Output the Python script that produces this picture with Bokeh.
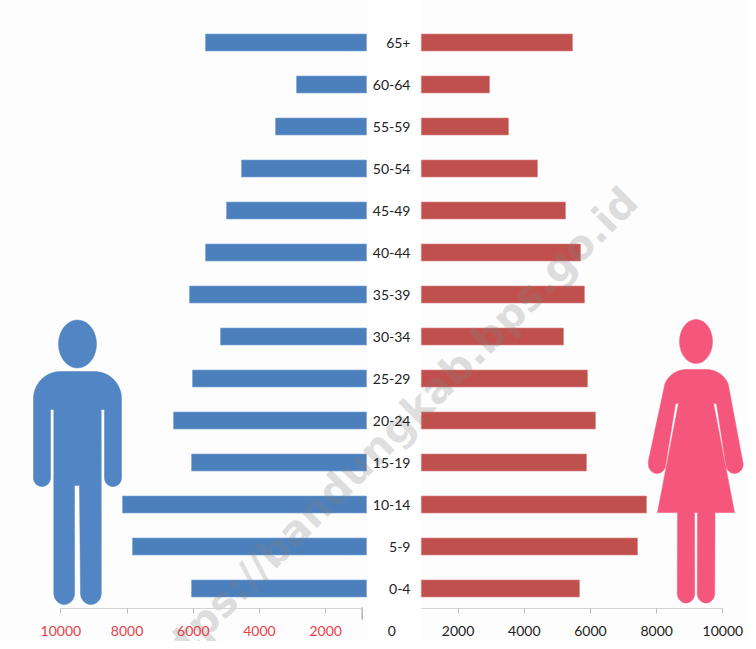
import numpy as np
from bokeh.embed import file_html
from bokeh.resources import INLINE
from bokeh.plotting import figure
from bokeh.models import LinearAxis, FixedTicker, Range1d, ColumnDataSource
from bokeh.core.properties import value

# ---- data ----
age_groups = ["0-4", "5-9", "10-14", "15-19", "20-24", "25-29", "30-34",
              "35-39", "40-44", "45-49", "50-54", "55-59", "60-64", "65+"]
male = [6054, 7837, 8139, 6054, 6598, 6024, 5178, 6115, 5631, 4997, 4544, 3517, 2882, 5631]
female = [5668, 7420, 7692, 5879, 6151, 5909, 5184, 5819, 5698, 5245, 4399, 3523, 2949, 5456]
male_base = 767      # bars are cut by the central label strip
female_base = 888
left_ticks = [2000, 4000, 6000, 8000, 10000]
right_ticks = [2000, 4000, 6000, 8000, 10000]

# ---- layout ----
W, H = 748, 641
OX, OY = 0, 0
PX_PER_UNIT = 0.0331
ZERO_PX = 391.4
ROW_PX = 42.0
BOTTOM_ROW_PX = 588.0
FONT = "Lato"

def dx(px):
    return (np.asarray(px, dtype=float) - ZERO_PX) / PX_PER_UNIT

def dy(py):
    return (BOTTOM_ROW_PX - np.asarray(py, dtype=float)) / ROW_PX

p = figure(width=W, height=H, output_backend="svg", toolbar_location=None,
           x_axis_type=None, y_axis_type=None,
           x_range=Range1d(float(dx(OX)), float(dx(OX + W))),
           y_range=Range1d(float(dy(OY + H)), float(dy(OY))),
           min_border=0, background_fill_color="#fdfdfd", outline_line_color=None)
p.grid.visible = False

# central white strip
p.quad(left=[float(dx(367))], right=[float(dx(421))], bottom=[float(dy(OY + H))], top=[float(dy(OY))],
       fill_color="#ffffff", line_color=None)

# bars
rows = list(range(len(age_groups)))
src = ColumnDataSource(dict(y=rows,
                            ml=[-v for v in male], mr=[-male_base] * len(rows),
                            fl=[female_base] * len(rows), fr=female))
p.hbar(y="y", left="ml", right="mr", height=17 / ROW_PX, source=src,
       fill_color="#4c80bd", line_color="#7ea4d2", line_width=0.6)
p.hbar(y="y", left="fl", right="fr", height=17 / ROW_PX, source=src,
       fill_color="#c0504d", line_color="#d68886", line_width=0.6)

# pictograms (traced in reference pixels, not data)
def arc(cx, cy, rx, ry, a0, a1, n=14):
    t = np.radians(np.linspace(a0, a1, n))
    return list(zip(cx + rx * np.cos(t), cy - ry * np.sin(t)))

def shape(points, color):
    xs, ys = zip(*points)
    p.patch(list(dx(xs)), list(dy(ys)), fill_color=color, line_color=color, line_width=0.5)

MAN = "#5285c4"
WOMAN = "#f4577b"
man = (arc(60, 398, 27, 27, 180, 90) + arc(94, 398, 27, 27, 90, 0)
       + arc(112.5, 477.5, 8.5, 8.5, 0, -180)
       + [(104, 409), (100.7, 409)]
       + arc(90.4, 593, 10.4, 11, 0, -180)
       + [(79, 485), (74, 485)]
       + arc(63.7, 593, 10.4, 11, 0, -180)
       + [(53.3, 409), (50, 409)]
       + arc(41.5, 477.5, 8.5, 8.5, 0, -180))
shape(man, MAN)
shape(arc(77, 343.5, 19, 24, 0, 360, 40), MAN)

woman = ([(663, 390)] + arc(686, 391, 23, 22, 160, 90) + arc(706, 391, 23, 22, 90, 20)
         + [(742, 460)]
         + arc(734, 463.5, 8.7, 9.5, 0, -165)
         + [(716, 403), (713, 403), (734, 512), (714.5, 512)]
         + arc(705.5, 593, 8.7, 9.5, 0, -180)
         + [(697, 512), (694, 512)]
         + arc(685.5, 593, 8.7, 9.5, 0, -180)
         + [(677, 512), (657, 512), (678, 403), (675, 403)]
         + arc(656.5, 463.5, 8.7, 9.5, -15, -180)
         + [(648, 460)])
shape(woman, WOMAN)
shape(arc(695.5, 341, 16.5, 22, 0, 360, 40), WOMAN)

# watermark
p.text(x=[float(dx(630))], y=[float(dy(194))], text=["https://bandungkab.bps.go.id"],
       angle=45, angle_units="deg", text_align="right", text_baseline="middle",
       text_font=value("DejaVu Sans"), text_font_style="bold", text_font_size="41px",
       text_color="#808080", text_alpha=0.26)

# axes
AXIS_Y = float(dy(608))
def x_axis(ticks, overrides, color, bounds=None, line=True, standoff=12):
    ax = LinearAxis(ticker=FixedTicker(ticks=ticks), fixed_location=AXIS_Y,
                    major_label_overrides=overrides,
                    major_label_text_color=color,
                    major_label_text_font=FONT,
                    major_label_text_font_size="14px",
                    major_label_standoff=standoff,
                    major_tick_in=0, major_tick_out=5 if line else 0,
                    major_tick_line_color="#bdbdbd",
                    minor_tick_line_color=None,
                    axis_line_color="#d4d4d4" if line else None)
    if bounds:
        ax.bounds = bounds
    p.add_layout(ax, "below")
    return ax

x_axis([-t for t in left_ticks], {-t: str(t) for t in left_ticks}, "#e8404a", bounds=(-10000, -900))
x_axis(right_ticks, {t: str(t) for t in right_ticks}, "#222222", bounds=(888, 10000))
x_axis([0], {0: "0"}, "#222222", line=False, standoff=17)

# end tick of the left axis
p.segment(x0=[-900], x1=[-900], y0=[float(dy(607))], y1=[float(dy(619))], line_color="#8c8c8c", line_width=1)

yax = LinearAxis(ticker=FixedTicker(ticks=rows), fixed_location=float(dx(421)),
                 major_label_overrides={i: s for i, s in enumerate(age_groups)},
                 major_label_text_color="#222222", major_label_text_font=FONT,
                 major_label_text_font_size="14px", major_label_standoff=5,
                 major_tick_line_color=None, minor_tick_line_color=None, axis_line_color=None)
p.add_layout(yax, "left")

open("out.html", "w").write(file_html(p, INLINE))
